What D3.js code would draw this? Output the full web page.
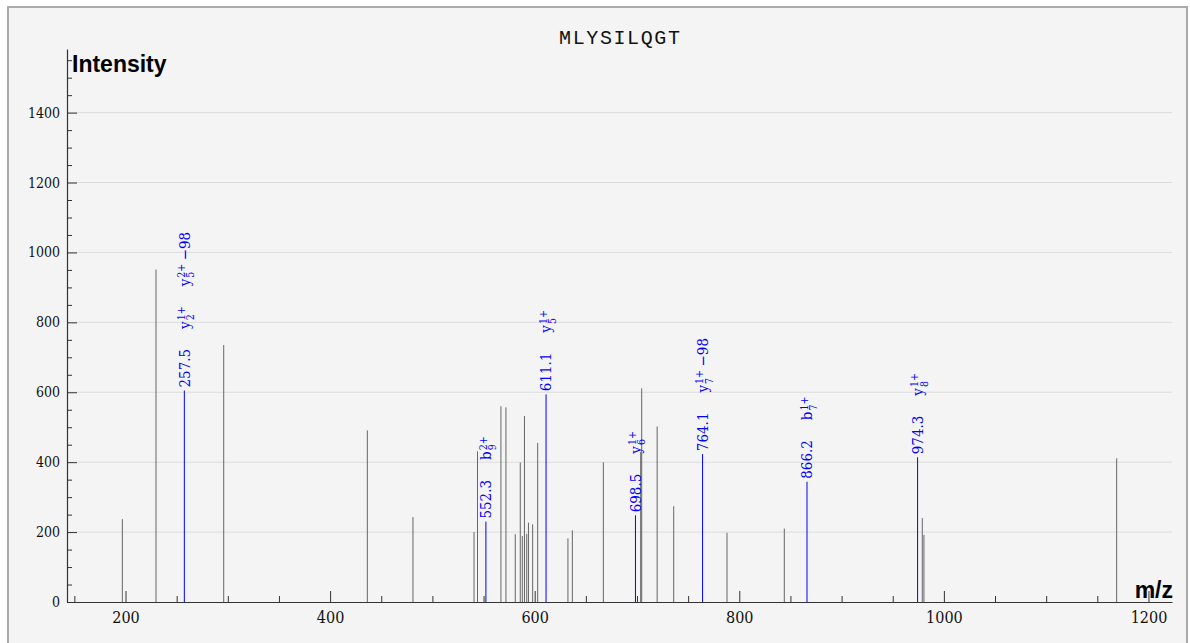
<!DOCTYPE html>
<html><head><meta charset="utf-8">
<script src="https://cdn.jsdelivr.net/npm/d3@7"></script>
<style>
html,body{margin:0;padding:0;background:#fff;}
svg{display:block;}
</style></head><body>
<svg id="chart" width="1190" height="643"></svg>
<script>
const title = "MLYSILQGT";
const yAxisTitle = "Intensity";
const xAxisTitle = "m/z";
// unmatched peaks
const peakMz = [196.9, 229.8, 296.0, 436.4, 481.0, 540.7, 544.1, 567.0, 571.9, 581.0, 585.9, 587.9, 590.0, 592.2, 593.9, 598.0, 602.9, 632.5, 636.8, 667.1, 703.6, 704.6, 719.7, 735.9, 788.0, 844.0, 978.9, 980.5, 1168.9];
const peakIntensity = [237, 951, 735, 491, 243, 200, 431, 560, 557, 194, 399, 189, 532, 195, 227, 222, 455, 182, 205, 400, 429, 611, 502, 274, 198, 210, 240, 192, 411];
// matched (annotated) peaks
const matchedMz = [257.5, 552.3, 611.1, 698.5, 764.1, 866.2, 974.3];
const matchedLabel = ["257.5", "552.3", "611.1", "698.5", "764.1", "866.2", "974.3"];
const matchedIntensity = [605, 230, 594, 248, 423, 344, 414];
// ion labels: [ion type, position, charge, neutral loss]
const matchedIons = [
  [["y", "2", "1+", ""], ["y", "5", "2+", "−98"]],
  [["b", "9", "2+", ""]],
  [["y", "5", "1+", ""]],
  [["y", "6", "1+", ""]],
  [["y", "7", "1+", "−98"]],
  [["b", "7", "1+", ""]],
  [["y", "8", "1+", ""]]
];
const yTickValues = [0, 200, 400, 600, 800, 1000, 1200, 1400];
const xTickValues = [200, 400, 600, 800, 1000, 1200];

const serif = '"DejaVu Serif Condensed","DejaVu Serif",serif';
const svg = d3.select("#chart");

// frame
svg.append("rect").attr("x", 8).attr("y", 7).attr("width", 1179).attr("height", 660)
  .attr("fill", "#f4f4f4").attr("stroke", "#aaaaaa").attr("stroke-width", 2);

const x = d3.scaleLinear().domain([142.8, 1223.0]).range([67, 1172]);
const y = d3.scaleLinear().domain([0, 1582]).range([602, 49]);

// grid
svg.append("g").selectAll("line").data(yTickValues.filter(v => v > 0)).join("line")
  .attr("x1", x.range()[0]).attr("x2", x.range()[1])
  .attr("y1", d => y(d)).attr("y2", d => y(d))
  .attr("stroke", "#dcdcdc").attr("stroke-width", 1);

// minor ticks
const yMinor = d3.range(0, 1582, 50).filter(v => v % 200 !== 0);
const xMinor = d3.range(150, 1223, 50).filter(v => v % 200 !== 0);
svg.append("g").attr("transform", `translate(${x.range()[0]},0)`)
  .call(d3.axisLeft(y).tickValues(yMinor).tickSize(-5).tickFormat(""))
  .call(g => g.select(".domain").remove())
  .selectAll("line").attr("stroke", "#333");
svg.append("g").attr("transform", `translate(0,${y(0)})`)
  .call(d3.axisBottom(x).tickValues(xMinor).tickSize(-6).tickFormat(""))
  .call(g => g.select(".domain").remove())
  .selectAll("line").attr("stroke", "#333");

// peaks
svg.append("g").selectAll("line").data(peakMz).join("line")
  .attr("x1", d => x(d)).attr("x2", d => x(d))
  .attr("y1", y(0)).attr("y2", (d, i) => y(peakIntensity[i]))
  .attr("stroke", "#666").attr("stroke-width", 1);

// major axes
const yAxis = svg.append("g").attr("transform", `translate(${x.range()[0]},0)`)
  .call(d3.axisLeft(y).tickValues(yTickValues).tickSize(-10).tickSizeOuter(0).tickPadding(7).tickFormat(d3.format("d")));
yAxis.selectAll("text").attr("font-family", serif).attr("font-size", 14).attr("fill", "#111");
const xAxis = svg.append("g").attr("transform", `translate(0,${y(0)})`)
  .call(d3.axisBottom(x).tickValues(xTickValues).tickSize(-11).tickSizeOuter(0).tickPadding(10).tickFormat(d3.format("d")));
xAxis.selectAll("text").attr("font-family", serif).attr("font-size", 16).attr("fill", "#111");
[yAxis, xAxis].forEach(a => {
  a.selectAll("line").attr("stroke", "#333");
  a.select(".domain").attr("stroke", "#333").attr("stroke-width", 1.2);
});

// matched peaks
const blue = "#0000ff";
svg.append("g").selectAll("line").data(matchedMz).join("line")
  .attr("x1", d => x(d)).attr("x2", d => x(d))
  .attr("y1", y(0)).attr("y2", (d, i) => y(matchedIntensity[i]))
  .attr("stroke", blue).attr("stroke-width", 1);

matchedMz.forEach((mz, i) => {
  const g = svg.append("g")
    .attr("transform", `translate(${x(mz)},${y(matchedIntensity[i]) - 3}) rotate(-90)`)
    .attr("fill", blue).attr("font-family", serif);
  const t = g.append("text").attr("x", 0).attr("dy", "0.35em").attr("font-size", 15).text(matchedLabel[i]);
  let pos = t.node().getComputedTextLength() + 20;
  matchedIons[i].forEach(([ion, idx, charge, loss]) => {
    const lt = g.append("text").attr("x", pos).attr("y", 5.25).attr("font-size", 15).text(ion);
    const lw = lt.node().getComputedTextLength();
    const sx = pos + lw + 1;
    const sup = g.append("text").attr("x", sx).attr("y", 0.8).attr("font-size", 10.5).text(charge);
    const sub = g.append("text").attr("x", sx).attr("y", 10).attr("font-size", 10.5).text(idx);
    let end = sx + Math.max(sup.node().getComputedTextLength(), sub.node().getComputedTextLength());
    if (loss) {
      const lo = g.append("text").attr("x", end + 3.5).attr("y", 5.25).attr("font-size", 15).text(loss);
      end = end + 3.5 + lo.node().getComputedTextLength();
    }
    pos = end + 20;
  });
});

// titles
svg.append("text").attr("x", (x.range()[0] + x.range()[1]) / 2 + 0.8).attr("y", 44.3)
  .attr("text-anchor", "middle").attr("font-family", '"Liberation Mono","Courier New",monospace')
  .attr("font-size", 20).attr("letter-spacing", "1.6px").attr("fill", "#111").text(title);
svg.append("text").attr("x", 72).attr("y", 71.5).attr("font-family", '"Liberation Sans",Arial,sans-serif')
  .attr("font-weight", "bold").attr("font-size", 23).attr("fill", "#000").text(yAxisTitle);
svg.append("text").attr("x", 1173).attr("y", 597.5).attr("text-anchor", "end").attr("font-family", '"Liberation Sans",Arial,sans-serif')
  .attr("font-weight", "bold").attr("font-size", 23).attr("fill", "#000").text(xAxisTitle);
</script>
</body></html>
